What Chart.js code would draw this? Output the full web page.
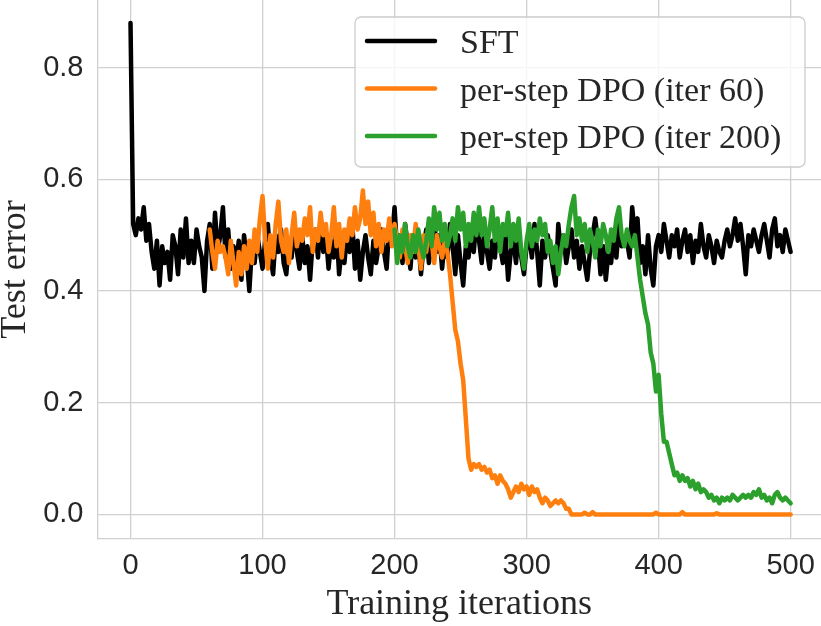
<!DOCTYPE html>
<html>
<head>
<meta charset="utf-8">
<script src="https://cdn.jsdelivr.net/npm/chart.js@4.4.1/dist/chart.umd.min.js"></script>
<style>
  html, body { margin: 0; padding: 0; background: #fff; overflow: hidden; }
  canvas { display: block; }
</style>
</head>
<body>
<canvas id="chart" width="821" height="626"></canvas>
<script>
// iterations are sampled every 2 steps
const STEP = 2;

const sftStart = 0;
const sftValues = [
  0.88, 0.52, 0.50, 0.53, 0.51, 0.55, 0.49, 0.52, 0.47, 0.44,
  0.49, 0.41, 0.48, 0.45, 0.47, 0.42, 0.50, 0.48, 0.43, 0.51,
  0.46, 0.53, 0.45, 0.49, 0.45, 0.51, 0.48, 0.46, 0.40, 0.49,
  0.52, 0.44, 0.54, 0.47, 0.50, 0.55, 0.46, 0.51, 0.44, 0.48,
  0.45, 0.49, 0.42, 0.50, 0.46, 0.40, 0.48, 0.45, 0.50, 0.47,
  0.44, 0.49, 0.52, 0.46, 0.43, 0.50, 0.47, 0.51, 0.45, 0.43,
  0.49, 0.46, 0.52, 0.47, 0.44, 0.50, 0.45, 0.48, 0.42, 0.49,
  0.51, 0.46, 0.53, 0.47, 0.50, 0.44, 0.49, 0.46, 0.51, 0.43,
  0.48, 0.45, 0.50, 0.47, 0.52, 0.44, 0.49, 0.42, 0.47, 0.50,
  0.46, 0.43, 0.49, 0.45, 0.48, 0.51, 0.47, 0.44, 0.52, 0.49,
  0.55, 0.47, 0.50, 0.45, 0.52, 0.48, 0.44, 0.50, 0.46, 0.49,
  0.43, 0.48, 0.51, 0.45, 0.49, 0.53, 0.47, 0.50, 0.44, 0.49,
  0.46, 0.52, 0.48, 0.43, 0.50, 0.45, 0.41, 0.48, 0.46, 0.50,
  0.47, 0.53, 0.49, 0.45, 0.51, 0.47, 0.44, 0.49, 0.46, 0.52,
  0.48, 0.45, 0.50, 0.42, 0.47, 0.49, 0.45, 0.51, 0.46, 0.43,
  0.48, 0.50, 0.46, 0.52, 0.47, 0.41, 0.49, 0.46, 0.50, 0.47,
  0.44, 0.41, 0.52, 0.47, 0.50, 0.45, 0.48, 0.51, 0.46, 0.49,
  0.44, 0.48, 0.45, 0.42, 0.47, 0.50, 0.53, 0.49, 0.43, 0.48,
  0.42, 0.47, 0.45, 0.50, 0.46, 0.52, 0.48, 0.49, 0.49, 0.46,
  0.55, 0.50, 0.53, 0.45, 0.48, 0.43, 0.50, 0.44, 0.41, 0.48,
  0.50, 0.47, 0.52, 0.49, 0.46, 0.50, 0.48, 0.51, 0.46, 0.49,
  0.51, 0.47, 0.50, 0.45, 0.49, 0.47, 0.52, 0.48, 0.46, 0.50,
  0.48, 0.45, 0.49, 0.47, 0.46, 0.49, 0.51, 0.48, 0.50, 0.53,
  0.49, 0.52, 0.48, 0.43, 0.50, 0.48, 0.51, 0.49, 0.47, 0.50,
  0.52, 0.49, 0.46, 0.51, 0.53, 0.48, 0.50, 0.47, 0.51, 0.49,
  0.47
];

const dpo60Start = 60;
const dpo60Values = [
  0.51, 0.47, 0.44, 0.49, 0.47, 0.48, 0.46, 0.43, 0.49, 0.45,
  0.41, 0.47, 0.43, 0.48, 0.44, 0.49, 0.45, 0.51, 0.47, 0.53,
  0.57, 0.49, 0.44, 0.50, 0.46, 0.52, 0.56, 0.49, 0.47, 0.51,
  0.45, 0.50, 0.54, 0.48, 0.51, 0.49, 0.53, 0.50, 0.55, 0.47,
  0.51, 0.49, 0.54, 0.50, 0.52, 0.47, 0.50, 0.55, 0.48, 0.52,
  0.46, 0.51, 0.49, 0.53, 0.50, 0.55, 0.51, 0.53, 0.58, 0.52,
  0.56, 0.50, 0.54, 0.48, 0.52, 0.47, 0.51, 0.49, 0.53, 0.48,
  0.52, 0.49, 0.46, 0.51, 0.48, 0.45, 0.50, 0.47, 0.52, 0.48,
  0.44, 0.50, 0.47, 0.51, 0.49, 0.45, 0.50, 0.48, 0.46, 0.49,
  0.47, 0.43, 0.38, 0.33, 0.31, 0.27, 0.24, 0.17, 0.10, 0.08,
  0.09, 0.085, 0.09, 0.08, 0.085, 0.075, 0.08, 0.065, 0.07, 0.055,
  0.07, 0.06, 0.055, 0.045, 0.03, 0.04, 0.05, 0.04, 0.055, 0.045,
  0.05, 0.035, 0.05, 0.04, 0.045, 0.03, 0.02, 0.03, 0.025, 0.015,
  0.02, 0.025, 0.02, 0.025, 0.02, 0.01, 0.01, 0.0, 0.0, 0.0,
  0.0, 0.0, 0.003, 0.0, 0.0, 0.004, 0.0, 0.0, 0.0, 0.0,
  0.0, 0.0, 0.0, 0.0, 0.0, 0.0, 0.0, 0.0, 0.0, 0.0,
  0.0, 0.0, 0.0, 0.0, 0.0, 0.0, 0.0, 0.0, 0.0, 0.003,
  0.0, 0.0, 0.0, 0.0, 0.0, 0.0, 0.0, 0.0, 0.0, 0.004,
  0.0, 0.0, 0.0, 0.0, 0.0, 0.0, 0.0, 0.0, 0.0, 0.0,
  0.0, 0.0, 0.002, 0.0, 0.0, 0.0, 0.0, 0.0, 0.0, 0.0,
  0.0, 0.0, 0.0, 0.0, 0.0, 0.0, 0.0, 0.0, 0.0, 0.0,
  0.0, 0.0, 0.0, 0.0, 0.0, 0.0, 0.0, 0.0, 0.0, 0.0,
  0.0
];

const dpo200Start = 200;
const dpo200Values = [
  0.51, 0.45, 0.50, 0.47, 0.52, 0.48, 0.46, 0.50, 0.47, 0.51,
  0.48, 0.46, 0.49, 0.53, 0.48, 0.55, 0.51, 0.54, 0.49, 0.52,
  0.48, 0.50, 0.53, 0.49, 0.55, 0.51, 0.54, 0.48, 0.52, 0.49,
  0.54, 0.50, 0.55, 0.50, 0.53, 0.48, 0.51, 0.55, 0.49, 0.53,
  0.47, 0.52, 0.50, 0.54, 0.48, 0.52, 0.49, 0.53, 0.47, 0.44,
  0.49, 0.52, 0.48, 0.51, 0.49, 0.53, 0.50, 0.52, 0.47, 0.49,
  0.45, 0.48, 0.43, 0.47, 0.50, 0.48, 0.52, 0.55, 0.57, 0.50,
  0.53, 0.49, 0.52, 0.47, 0.51, 0.49, 0.46, 0.51, 0.48, 0.52,
  0.50, 0.47, 0.51, 0.49, 0.53, 0.55, 0.50, 0.48, 0.51, 0.49,
  0.48, 0.50, 0.46, 0.42, 0.39, 0.36, 0.34, 0.29, 0.27, 0.22,
  0.25, 0.18, 0.13, 0.13, 0.11, 0.09, 0.07, 0.075, 0.06, 0.07,
  0.06, 0.065, 0.05, 0.06, 0.045, 0.055, 0.04, 0.045, 0.04, 0.03,
  0.035, 0.025, 0.03, 0.02, 0.03, 0.025, 0.03, 0.025, 0.035, 0.03,
  0.025, 0.03, 0.035, 0.03, 0.035, 0.03, 0.04, 0.035, 0.045, 0.03,
  0.035, 0.025, 0.03, 0.02, 0.035, 0.04, 0.03, 0.025, 0.03, 0.025,
  0.02
];

const seriesLabels = ["SFT", "per-step DPO (iter 60)", "per-step DPO (iter 200)"];
const seriesColors = ["#000000", "#ff7f0e", "#2ca02c"];

const xTickStep = 100;
const yTickStep = 0.2;

const GRID = "#d0d0d0";
const TEXT = "#262626";

function toPoints(start, values) {
  return values.map((v, i) => ({ x: start + i * STEP, y: v }));
}

// matplotlib-like legend box in the upper right of the plot
const insideLegend = {
  id: "insideLegend",
  afterDraw(chart) {
    const ctx = chart.ctx;
    const box = { x: 355, y: 17, w: 450, h: 150, r: 6 };
    ctx.save();
    ctx.beginPath();
    ctx.roundRect(box.x, box.y, box.w, box.h, box.r);
    ctx.fillStyle = "rgba(255,255,255,0.8)";
    ctx.fill();
    ctx.lineWidth = 1.3;
    ctx.strokeStyle = "#cccccc";
    ctx.stroke();

    ctx.font = "34px 'Liberation Serif'";
    ctx.textAlign = "left";
    ctx.textBaseline = "alphabetic";
    chart.data.datasets.forEach((ds, i) => {
      const y = 41 + i * 47.5;
      ctx.beginPath();
      ctx.moveTo(367, y);
      ctx.lineTo(435, y);
      ctx.lineWidth = 4.5;
      ctx.lineCap = "round";
      ctx.strokeStyle = ds.borderColor;
      ctx.stroke();
      ctx.fillStyle = TEXT;
      ctx.fillText(ds.label, 460, y + 12);
    });
    ctx.restore();
  },
};

const datasets = [
  toPoints(sftStart, sftValues),
  toPoints(dpo60Start, dpo60Values),
  toPoints(dpo200Start, dpo200Values),
].map((points, i) => ({
  label: seriesLabels[i],
  data: points,
  borderColor: seriesColors[i],
  backgroundColor: seriesColors[i],
  borderWidth: 4.5,
  pointRadius: 0,
  tension: 0,
  borderJoinStyle: "round",
  borderCapStyle: "round",
  order: seriesLabels.length - i,
}));

new Chart(document.getElementById("chart"), {
  type: "line",
  data: { datasets },
  options: {
    responsive: false,
    animation: false,
    events: [],
    layout: { padding: 0 },
    plugins: {
      legend: { display: false },
      tooltip: { enabled: false },
    },
    scales: {
      x: {
        type: "linear",
        min: -25,
        max: 523,
        afterFit(scale) {
          scale.height = 87;
          scale.paddingLeft = 0;
          scale.paddingRight = 0;
        },
        ticks: {
          stepSize: xTickStep,
          includeBounds: false,
          padding: 10,
          color: TEXT,
          font: { family: "'Liberation Sans'", size: 29 },
          maxRotation: 0,
        },
        grid: { color: GRID, lineWidth: 1.3, drawTicks: false },
        border: { color: GRID, width: 1.3 },
        title: {
          display: true,
          text: "Training iterations",
          color: TEXT,
          font: { family: "'Liberation Serif'", size: 36 },
          padding: { top: 0, bottom: 0 },
        },
      },
      y: {
        type: "linear",
        min: -0.044,
        max: 0.921,
        afterFit(scale) {
          scale.width = 97.5;
          scale.paddingTop = 0;
          scale.paddingBottom = 0;
        },
        ticks: {
          stepSize: yTickStep,
          includeBounds: false,
          padding: 14,
          color: TEXT,
          font: { family: "'Liberation Sans'", size: 29 },
          callback: (v) => Number(v).toFixed(1),
        },
        grid: { color: GRID, lineWidth: 1.3, drawTicks: false },
        border: { color: GRID, width: 1.3 },
        title: {
          display: true,
          text: "Test error",
          color: TEXT,
          font: { family: "'Liberation Serif'", size: 36, lineHeight: 0.86 },
          padding: { top: 0, bottom: 0 },
        },
      },
    },
  },
  plugins: [insideLegend],
});
</script>
</body>
</html>
